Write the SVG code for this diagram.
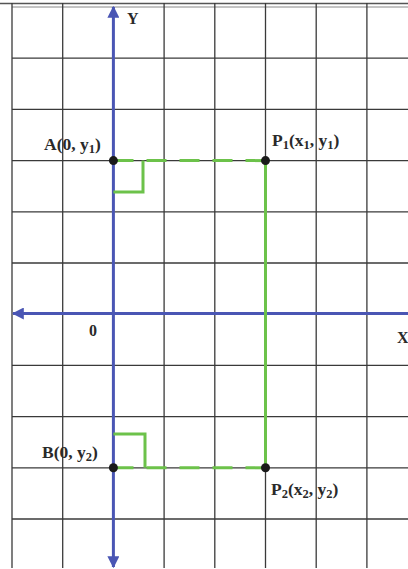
<svg xmlns="http://www.w3.org/2000/svg" width="408" height="569" viewBox="0 0 408 569">
<style>
.grid line{stroke:#3a3a3a;stroke-width:1.3}
.axis{stroke:#4a56b4;stroke-width:3;fill:none}
.g{stroke:#6cc24a;stroke-width:3;fill:none}
.gd{stroke:#6cc24a;stroke-width:3;fill:none;stroke-dasharray:20 13}
.lbl{font-family:"Liberation Serif",serif;font-weight:bold;font-size:16px;fill:#2a2a2a}
.pl{font-size:17.5px}
.sub{font-size:12.5px}
</style>
<defs>
<marker id="ah" viewBox="0 0 10 10" refX="9" refY="5" markerWidth="4" markerHeight="4" orient="auto-start-reverse" markerUnits="strokeWidth">
<path d="M0,0 L10,5 L0,10 z" fill="#4a56b4"/>
</marker>
</defs>
<rect width="408" height="569" fill="#fff"/>
<g id="grid" class="grid">
<line x1="0" y1="3.5" x2="408" y2="3.5" style="stroke:#555;stroke-width:1.5"/>
<line x1="12" y1="7" x2="408" y2="7" style="stroke:#888;stroke-width:1"/>
<line x1="12" y1="58.2" x2="408" y2="58.2"/>
<line x1="12" y1="109.4" x2="408" y2="109.4"/>
<line x1="12" y1="160.6" x2="408" y2="160.6"/>
<line x1="12" y1="211.8" x2="408" y2="211.8"/>
<line x1="12" y1="263" x2="408" y2="263"/>
<line x1="12" y1="365.4" x2="408" y2="365.4"/>
<line x1="12" y1="416.6" x2="408" y2="416.6"/>
<line x1="12" y1="467.8" x2="408" y2="467.8"/>
<line x1="12" y1="519" x2="408" y2="519"/>
<line x1="12" y1="3" x2="12" y2="568"/>
<line x1="62.7" y1="3" x2="62.7" y2="568"/>
<line x1="164.1" y1="3" x2="164.1" y2="568"/>
<line x1="214.8" y1="3" x2="214.8" y2="568"/>
<line x1="265.5" y1="3" x2="265.5" y2="568"/>
<line x1="316.2" y1="3" x2="316.2" y2="568"/>
<line x1="366.9" y1="3" x2="366.9" y2="568"/>
</g>
<g id="connectors">
<line id="y-axis" class="axis" x1="113.4" y1="567" x2="113.4" y2="7" marker-start="url(#ah)" marker-end="url(#ah)"/>
<line id="x-axis" class="axis" x1="408" y1="313.5" x2="13" y2="313.5" marker-end="url(#ah)"/>
<line class="gd" x1="265.5" y1="160.6" x2="113.4" y2="160.6"/>
<line class="gd" x1="265.5" y1="467.8" x2="113.4" y2="467.8"/>
<line class="g" x1="265.5" y1="160.6" x2="265.5" y2="467.8"/>
<polyline class="g" points="143,160.6 143,192 113.4,192"/>
<polyline class="g" points="113.4,434 145,434 145,467.8"/>
</g>
<g id="label-Y"><text class="lbl" x="127" y="24">Y</text></g>
<g id="label-X"><text class="lbl" x="397" y="343">X</text></g>
<g id="origin"><text class="lbl" x="89" y="336">0</text></g>
<g id="A">
<circle cx="113.4" cy="160.6" r="4.5" fill="#1a1a1a"/>
<text class="lbl pl" x="44" y="150">A(0, y<tspan class="sub" dy="3">1</tspan><tspan dy="-3">)</tspan></text>
</g>
<g id="P1">
<circle cx="265.5" cy="160.6" r="4.5" fill="#1a1a1a"/>
<text class="lbl pl" x="272" y="146">P<tspan class="sub" dy="3">1</tspan><tspan dy="-3">(x</tspan><tspan class="sub" dy="3">1</tspan><tspan dy="-3">, y</tspan><tspan class="sub" dy="3">1</tspan><tspan dy="-3">)</tspan></text>
</g>
<g id="B">
<circle cx="113.4" cy="467.8" r="4.5" fill="#1a1a1a"/>
<text class="lbl pl" x="42" y="458">B(0, y<tspan class="sub" dy="3">2</tspan><tspan dy="-3">)</tspan></text>
</g>
<g id="P2">
<circle cx="265.5" cy="467.8" r="4.5" fill="#1a1a1a"/>
<text class="lbl pl" x="271" y="495">P<tspan class="sub" dy="3">2</tspan><tspan dy="-3">(x</tspan><tspan class="sub" dy="3">2</tspan><tspan dy="-3">, y</tspan><tspan class="sub" dy="3">2</tspan><tspan dy="-3">)</tspan></text>
</g>
</svg>
